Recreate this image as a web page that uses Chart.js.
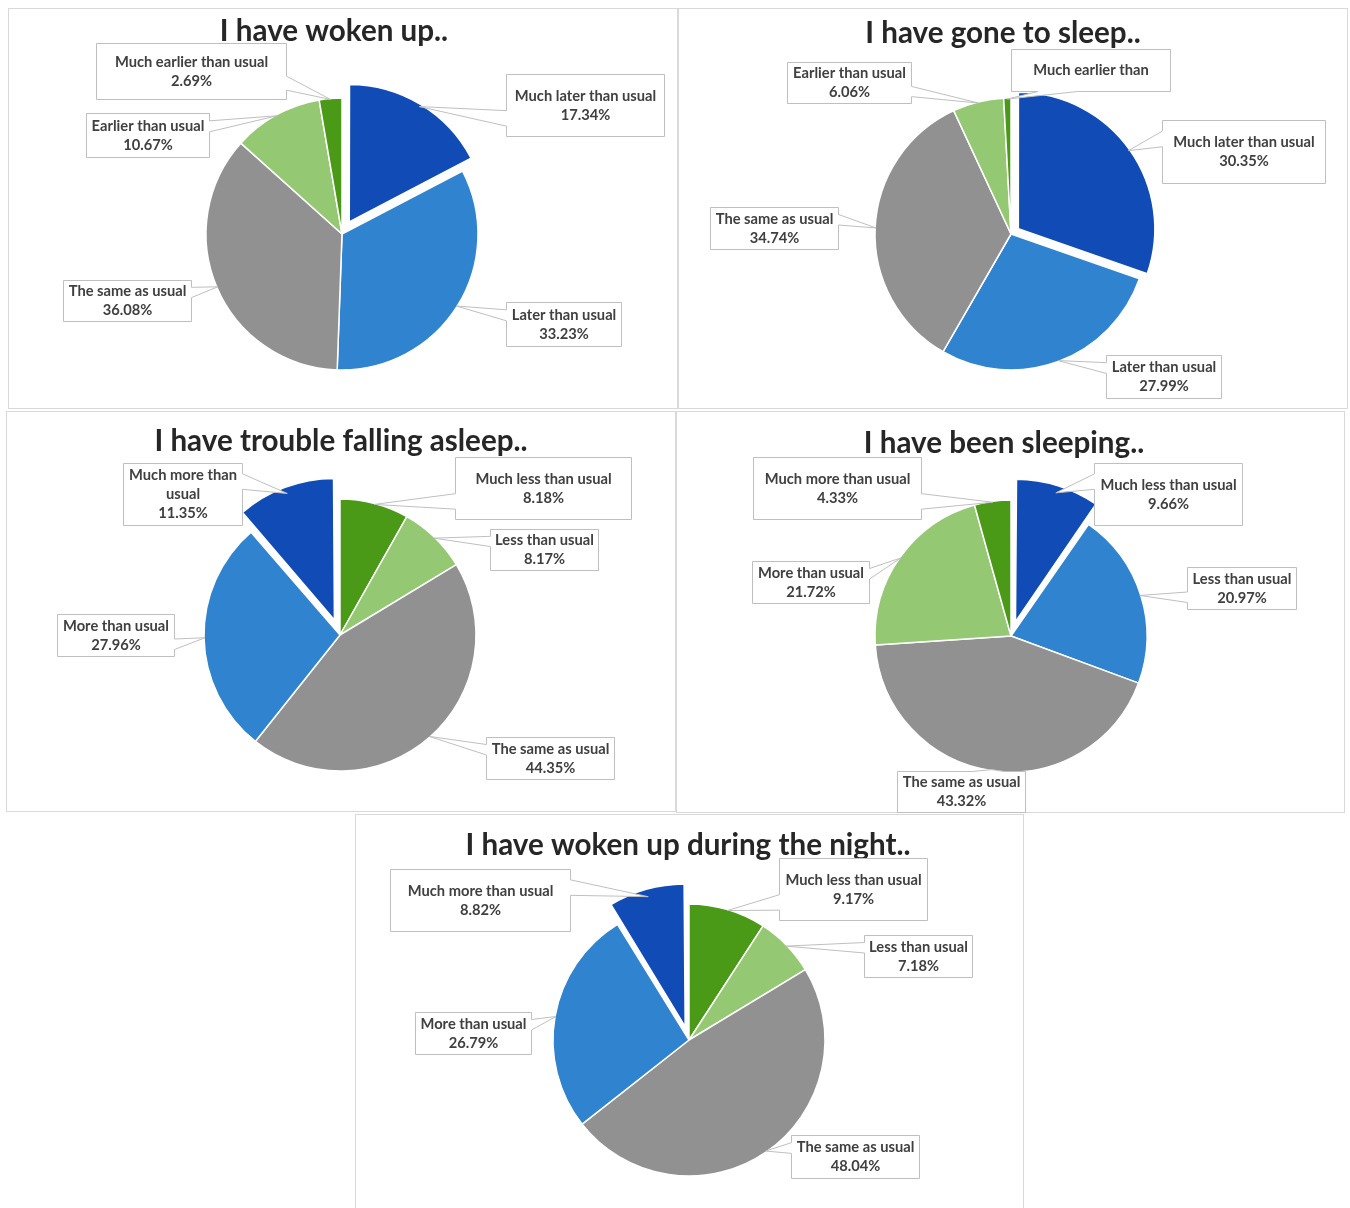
<!DOCTYPE html>
<html lang="en">
<head>
    <meta charset="UTF-8">
    <title>Sleep during the lockdown</title>
    <script src="https://cdn.jsdelivr.net/npm/chart.js"></script>
    <style>
        body { margin: 0; background: #fff; }
        #page { position: relative; width: 1350px; height: 1208px; overflow: hidden; }
        .panel { position: absolute; border: 1px solid #d9d9d9; box-sizing: border-box; background: #fff; }
        .panel canvas { position: absolute; left: -1px; top: -1px; }
    </style>
</head>
<body>
<div id="page">
    <div class="panel" id="p1"><canvas id="c1"></canvas></div>
    <div class="panel" id="p2"><canvas id="c2"></canvas></div>
    <div class="panel" id="p3"><canvas id="c3"></canvas></div>
    <div class="panel" id="p4"><canvas id="c4"></canvas></div>
    <div class="panel" id="p5"><canvas id="c5"></canvas></div>
</div>
<script>
    // data (percent of respondents)
    const timeLabels = ['Much later than usual', 'Later than usual', 'The same as usual', 'Earlier than usual', 'Much earlier than usual'];
    const amountLabels = ['Much less than usual', 'Less than usual', 'The same as usual', 'More than usual', 'Much more than usual'];

    const wokeUpValues = [17.34, 33.23, 36.08, 10.67, 2.69];
    const wentToSleepValues = [30.35, 27.99, 34.74, 6.06, 0.86];
    const troubleValues = [8.18, 8.17, 44.35, 27.96, 11.35];
    const sleepingValues = [9.66, 20.97, 43.32, 21.72, 4.33];
    const nightWakingValues = [9.17, 7.18, 48.04, 26.79, 8.82];

    const titles = [
        'I have woken up..',
        'I have gone to sleep..',
        'I have trouble falling asleep..',
        'I have been sleeping..',
        'I have woken up during the night..'
    ];

    // colours
    const DARK_BLUE = '#104bb6';
    const MID_BLUE = '#2f83cf';
    const GREY = '#919191';
    const LIGHT_GREEN = '#95c873';
    const DARK_GREEN = '#4a9a17';
    const blueFirst = [DARK_BLUE, MID_BLUE, GREY, LIGHT_GREEN, DARK_GREEN];
    const greenFirst = [DARK_GREEN, LIGHT_GREEN, GREY, MID_BLUE, DARK_BLUE];

    const RADIUS = 136;

    // layout of every panel (page pixels); callout boxes are x, y, w, h
    const panels = [
        {
            id: 'c1', box: [8, 8, 670, 401], center: [342, 234], titlePos: [334, 31],
            labels: timeLabels, values: wokeUpValues, colors: blueFirst, offsets: [56, 0, 0, 0, 0],
            callouts: [
                { rect: [506, 74, 158, 62] },
                { rect: [506, 302, 115, 44] },
                { rect: [63, 280, 128, 41] },
                { rect: [86, 113, 123, 44] },
                { rect: [96, 43, 190, 56] }
            ]
        },
        {
            id: 'c2', box: [678, 8, 670, 401], center: [1011, 234], titlePos: [1003, 33],
            labels: timeLabels, values: wentToSleepValues, colors: blueFirst, offsets: [36, 0, 0, 0, 0],
            callouts: [
                { rect: [1162, 120, 163, 63] },
                { rect: [1106, 355, 115, 43] },
                { rect: [710, 207, 128, 42] },
                { rect: [787, 62, 124, 41] },
                { rect: [1011, 49, 159, 42], wrap: ['Much earlier than'], hideValue: true }
            ]
        },
        {
            id: 'c3', box: [6, 411, 670, 401], center: [340, 635], titlePos: [341, 441],
            labels: amountLabels, values: troubleValues, colors: greenFirst, offsets: [0, 0, 0, 0, 64],
            callouts: [
                { rect: [455, 457, 176, 62] },
                { rect: [490, 529, 108, 41] },
                { rect: [486, 737, 128, 42] },
                { rect: [57, 614, 117, 42] },
                { rect: [123, 463, 119, 62], wrap: ['Much more than', 'usual'] }
            ]
        },
        {
            id: 'c4', box: [676, 411, 669, 402], center: [1011, 636], titlePos: [1004, 443],
            labels: amountLabels, values: sleepingValues, colors: blueFirst, offsets: [60, 0, 0, 0, 0],
            callouts: [
                { rect: [1094, 463, 148, 62] },
                { rect: [1187, 567, 109, 42] },
                { rect: [897, 771, 128, 41] },
                { rect: [752, 561, 117, 42] },
                { rect: [753, 457, 168, 62] }
            ]
        },
        {
            id: 'c5', box: [355, 814, 669, 400], center: [689, 1040], titlePos: [688, 845],
            labels: amountLabels, values: nightWakingValues, colors: greenFirst, offsets: [0, 0, 0, 0, 56],
            callouts: [
                { rect: [779, 858, 148, 62] },
                { rect: [864, 935, 108, 42] },
                { rect: [791, 1135, 128, 43] },
                { rect: [415, 1012, 116, 42] },
                { rect: [390, 869, 180, 62] }
            ]
        }
    ];

    // Excel style "wedge" callout: rectangle with a pointer to the slice
    function drawCallout(ctx, r, tip, lines) {
        const x = Math.round(r[0]) + 0.5, y = Math.round(r[1]) + 0.5, w = r[2], h = r[3];
        const hc = x + w / 2, vc = y + h / 2;
        const dxPos = tip.x - hc, dyPos = tip.y - vc;
        const dz = Math.abs(dyPos) - Math.abs(dxPos * h / w);
        const x1 = x + w * (dxPos > 0 ? 7 : 2) / 12, x2 = x + w * (dxPos > 0 ? 10 : 5) / 12;
        const y1 = y + h * (dyPos > 0 ? 7 : 2) / 12, y2 = y + h * (dyPos > 0 ? 10 : 5) / 12;

        ctx.save();
        ctx.beginPath();
        ctx.moveTo(x, y);
        if (dz > 0 && dyPos < 0) { ctx.lineTo(x1, y); ctx.lineTo(tip.x, tip.y); ctx.lineTo(x2, y); }
        ctx.lineTo(x + w, y);
        if (dz <= 0 && dxPos > 0) { ctx.lineTo(x + w, y1); ctx.lineTo(tip.x, tip.y); ctx.lineTo(x + w, y2); }
        ctx.lineTo(x + w, y + h);
        if (dz > 0 && dyPos > 0) { ctx.lineTo(x2, y + h); ctx.lineTo(tip.x, tip.y); ctx.lineTo(x1, y + h); }
        ctx.lineTo(x, y + h);
        if (dz <= 0 && dxPos < 0) { ctx.lineTo(x, y2); ctx.lineTo(tip.x, tip.y); ctx.lineTo(x, y1); }
        ctx.closePath();
        ctx.fillStyle = '#ffffff';
        ctx.fill();
        ctx.strokeStyle = '#bfbfbf';
        ctx.lineWidth = 1;
        ctx.stroke();

        ctx.fillStyle = '#404040';
        ctx.font = 'bold 14.7px Lato';
        ctx.textAlign = 'center';
        ctx.textBaseline = 'middle';
        const lh = 19;
        let ty = vc - (lines.length - 1) * lh / 2;
        lines.forEach(line => {
            ctx.fillText(line, hc, ty);
            ty += lh;
        });
        ctx.restore();
    }

    const calloutPlugin = {
        id: 'callouts',
        afterDraw(chart, args, opts) {
            const ctx = chart.ctx;
            const meta = chart.getDatasetMeta(0);
            const ds = chart.data.datasets[0];

            // chart title
            ctx.save();
            ctx.fillStyle = '#262626';
            ctx.font = 'bold 29.6px Lato';
            ctx.textAlign = 'center';
            ctx.textBaseline = 'middle';
            ctx.fillText(opts.title, opts.titleX, opts.titleY);
            ctx.restore();

            meta.data.forEach((arc, i) => {
                const c = opts.callouts[i];
                if (!c) return;
                const p = arc.getProps(['x', 'y', 'startAngle', 'endAngle', 'outerRadius'], true);
                const mid = (p.startAngle + p.endAngle) / 2;
                const shift = (ds.offset[i] || 0) / 4;
                const rr = p.outerRadius + shift - 1;
                const tip = {
                    x: p.x + Math.cos(mid) * rr,
                    y: p.y + Math.sin(mid) * rr
                };
                const label = chart.data.labels[i];
                const value = ds.data[i].toFixed(2) + '%';
                const lines = (c.wrap || [label]).slice();
                if (!c.hideValue) lines.push(value);
                const rect = [c.rect[0] - opts.originX, c.rect[1] - opts.originY, c.rect[2], c.rect[3]];
                drawCallout(ctx, rect, tip, lines);
            });
        }
    };

    panels.forEach((p, k) => {
        const [left, top, W, H] = p.box;
        const div = document.getElementById('p' + (k + 1));
        div.style.left = left + 'px';
        div.style.top = top + 'px';
        div.style.width = W + 'px';
        div.style.height = H + 'px';

        const canvas = document.getElementById(p.id);
        canvas.width = W;
        canvas.height = H;

        // put the pie centre where it sits in the original
        const cx = p.center[0] - left, cy = p.center[1] - top;
        const dx = 2 * cx - W, dy = 2 * cy - H;

        new Chart(canvas, {
            type: 'pie',
            data: {
                labels: p.labels,
                datasets: [{
                    data: p.values,
                    backgroundColor: p.colors,
                    borderColor: '#ffffff',
                    borderWidth: 1.5,
                    offset: p.offsets,
                    radius: RADIUS
                }]
            },
            options: {
                responsive: false,
                animation: false,
                layout: {
                    padding: {
                        left: Math.max(dx, 0), right: Math.max(-dx, 0),
                        top: Math.max(dy, 0), bottom: Math.max(-dy, 0)
                    }
                },
                plugins: {
                    legend: { display: false },
                    tooltip: { enabled: false },
                    callouts: {
                        title: titles[k],
                        titleX: p.titlePos[0] - left,
                        titleY: p.titlePos[1] - top,
                        originX: left,
                        originY: top,
                        callouts: p.callouts
                    }
                }
            },
            plugins: [calloutPlugin]
        });
    });
</script>
</body>
</html>
